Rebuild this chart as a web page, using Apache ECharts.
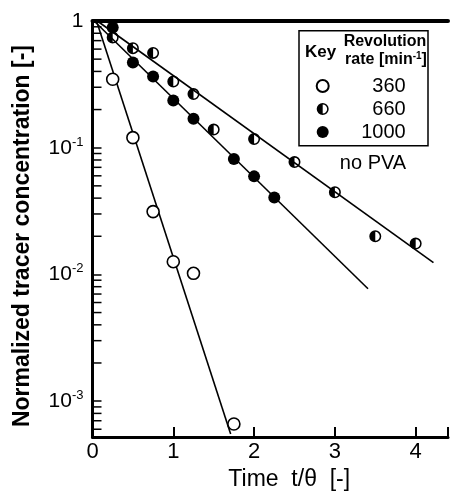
<!DOCTYPE html>
<html>
<head>
<meta charset="utf-8">
<script src="https://cdn.jsdelivr.net/npm/echarts@6/dist/echarts.min.js"></script>
<style>html,body{margin:0;padding:0;background:#fff;}#c{width:451px;height:496px;}</style>
</head>
<body>
<div id="c"></div>
<script>
// Data
const time360 = [0.25, 0.5, 0.75, 1.0, 1.25, 1.75];
const conc360 = [0.347, 0.12, 0.0313, 0.0126, 0.0102, 0.00066];
const time660 = [0.25, 0.5, 0.75, 1.0, 1.25, 1.5, 2.0, 2.5, 3.0, 3.5, 4.0];
const conc660 = [0.74, 0.61, 0.56, 0.333, 0.265, 0.139, 0.117, 0.077, 0.0445, 0.020, 0.0175];
const time1000 = [0.25, 0.5, 0.75, 1.0, 1.25, 1.75, 2.0, 2.25];
const conc1000 = [0.89, 0.47, 0.364, 0.236, 0.169, 0.0815, 0.0594, 0.0404];
// fitted straight lines (end points)
const fitTime360 = [0.05, 1.71];
const fitConc360 = [1.0, 0.00055];
const fitTime660 = [0.06, 4.22];
const fitConc660 = [1.0, 0.0124];
const fitTime1000 = [0.02, 3.41];
const fitConc1000 = [1.0, 0.0077];
// axes
const xTickLabels = ['0', '1', '2', '3', '4'];
const minorTickValues = [0.0006, 0.0007, 0.0008, 0.0009,
  0.002, 0.003, 0.004, 0.005, 0.006, 0.007, 0.008, 0.009,
  0.02, 0.03, 0.04, 0.05, 0.06, 0.07, 0.08, 0.09,
  0.2, 0.3, 0.4, 0.5, 0.6, 0.7, 0.8, 0.9];
const seriesNames = ['360', '660', '1000'];

const zip = (a, b) => a.map((v, i) => [v, b[i]]);
const FONT = 'Liberation Sans';
const halfPath = 'path://M10,0 A10,10 0 1,1 10,20 A10,10 0 1,1 10,0 Z ' +
  'M10,2.6 A7.4,7.4 0 1,0 10,17.4 A7.4,7.4 0 1,0 10,2.6 Z ' +
  'M10,2.6 L10,17.4 A7.4,7.4 0 0,1 10,2.6 Z';

const chart = echarts.init(document.getElementById('c'), null, {renderer: 'canvas'});
const lineStyle = {color: '#000', width: 1.6};
chart.setOption({
  animation: false,
  backgroundColor: '#fff',
  grid: {left: 92.5, top: 21, width: 357, height: 417.3, show: false},
  xAxis: [{
    type: 'value', min: 0, max: 4.4, interval: 1,
    name: 'Time  t/θ  [-]', nameLocation: 'middle', nameGap: 30,
    nameTextStyle: {fontFamily: FONT, fontSize: 23, color: '#000', padding: [0, 0, 0, 38]},
    axisLine: {lineStyle: {color: '#000', width: 3}},
    axisTick: {inside: true, length: 10, lineStyle: {color: '#000', width: 2}},
    axisLabel: {
      margin: 4, fontFamily: FONT, fontSize: 22, color: '#000',
      formatter: v => (Math.abs(v - Math.round(v)) < 1e-9 && xTickLabels[Math.round(v)] !== undefined) ? xTickLabels[Math.round(v)] : ''
    },
    splitLine: {show: false}
  }, {
    type: 'value', position: 'top', min: 0, max: 4.4,
    axisLine: {lineStyle: {color: '#000', width: 4}},
    axisTick: {show: false}, axisLabel: {show: false}, splitLine: {show: false}
  }],
  yAxis: {
    type: 'log', logBase: 10, min: 0.00052, max: 1,
    name: 'Normalized tracer concentration [-]', nameLocation: 'middle', nameRotate: 90, nameGap: 58,
    nameTextStyle: {fontFamily: FONT, fontSize: 23, fontWeight: 'bold', color: '#000', padding: [0, 14, 0, 0]},
    axisLine: {lineStyle: {color: '#000', width: 3}},
    axisTick: {inside: true, length: 9, lineStyle: {color: '#000', width: 1.5}},
    axisLabel: {
      margin: 9, fontFamily: FONT, fontSize: 21, color: '#000',
      formatter: function (v) {
        const e = Math.round(Math.log10(v));
        if (Math.abs(Math.pow(10, e) - v) / v > 1e-6) return '';
        if (e === 0) return '1';
        return '{b|10}{s|' + e + '}';
      },
      rich: {
        b: {fontFamily: FONT, fontSize: 21, color: '#000', lineHeight: 24},
        s: {fontFamily: FONT, fontSize: 13, color: '#000', verticalAlign: 'top', lineHeight: 24}
      }
    },
    splitLine: {show: false}
  },
  legend: {
    data: seriesNames, orient: 'vertical', left: 315.7, top: 76,
    itemWidth: 12, itemHeight: 12, itemGap: 3, padding: 0,
    formatter: n => '{n|' + n + '}',
    textStyle: {fontFamily: FONT, fontSize: 20, color: '#000',
      rich: {n: {fontFamily: FONT, fontSize: 20, color: '#000', width: 72, align: 'right', lineHeight: 22}}}
  },
  graphic: [
    {type: 'rect', shape: {x: 299, y: 30.7, width: 129, height: 115}, style: {fill: 'none', stroke: '#000', lineWidth: 1.5}, z: 10},
    {type: 'text', x: 305, y: 52, style: {text: 'Key', font: 'bold 17px "Liberation Sans"', fill: '#000', textVerticalAlign: 'middle'}, z: 10},
    {type: 'text', x: 385, y: 41.7, style: {text: 'Revolution', font: 'bold 16px "Liberation Sans"', fill: '#000', textAlign: 'center', textVerticalAlign: 'middle'}, z: 10},
    {type: 'text', x: 386, y: 60, style: {
      text: '{a|rate [min}{s|-1}{a|]}', textAlign: 'center', textVerticalAlign: 'middle',
      rich: {a: {fontFamily: FONT, fontSize: 16, fontWeight: 'bold', fill: '#000', lineHeight: 18},
             s: {fontFamily: FONT, fontSize: 10, fontWeight: 'bold', fill: '#000', verticalAlign: 'top', lineHeight: 18}}
    }, z: 10},
    {type: 'text', x: 373, y: 163, style: {text: 'no PVA', font: '20px "Liberation Sans"', fill: '#000', textAlign: 'center', textVerticalAlign: 'middle'}, z: 10}
  ],
  series: [
    {type: 'custom', name: 'minorTicks', silent: true, z: 4,
      renderItem: function (params, api) {
        const p = api.coord([0, api.value(1)]);
        return {type: 'line', shape: {x1: p[0], y1: p[1], x2: p[0] + 9, y2: p[1]}, style: {stroke: '#000', lineWidth: 1.5}};
      },
      data: minorTickValues.map(v => [0, v])},
    {type: 'line', name: 'fit360', data: zip(fitTime360, fitConc360), symbol: 'none', lineStyle: lineStyle, z: 2},
    {type: 'line', name: 'fit660', data: zip(fitTime660, fitConc660), symbol: 'none', lineStyle: lineStyle, z: 2},
    {type: 'line', name: 'fit1000', data: zip(fitTime1000, fitConc1000), symbol: 'none', lineStyle: lineStyle, z: 2},
    {type: 'scatter', name: '360', data: zip(time360, conc360), symbol: 'circle', symbolSize: 12, z: 5,
      itemStyle: {color: '#fff', borderColor: '#000', borderWidth: 1.6, opacity: 1}},
    {type: 'scatter', name: '660', data: zip(time660, conc660), symbol: halfPath, symbolSize: 12, z: 5,
      itemStyle: {color: '#000', borderWidth: 0, opacity: 1}},
    {type: 'scatter', name: '1000', data: zip(time1000, conc1000), symbol: 'circle', symbolSize: 12, z: 5,
      itemStyle: {color: '#000', opacity: 1}}
  ]
});
</script>
</body>
</html>
